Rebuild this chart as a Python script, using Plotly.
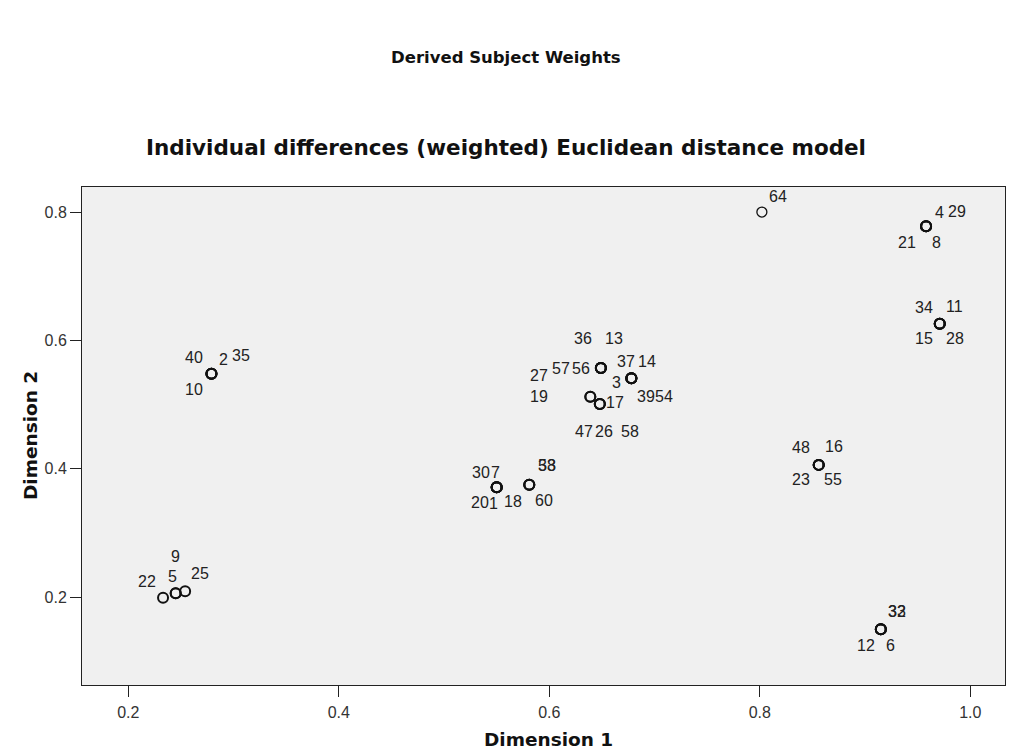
import plotly.graph_objects as go

# ---- data ----
subjects = [40, 2, 35, 10,
            64,
            4, 29, 21, 8,
            34, 11, 15, 28,
            48, 16, 23, 55,
            32, 33, 12, 6,
            22, 5, 9, 25,
            30, 7, 20, 1, 18,
            53, 38, 60,
            36, 13, 27, 57, 56,
            37, 14, 3, 39, 54,
            19, 47,
            17, 26, 58]

dim1 = [0.279, 0.279, 0.279, 0.279,
        0.802,
        0.958, 0.958, 0.958, 0.958,
        0.971, 0.971, 0.971, 0.971,
        0.856, 0.856, 0.856, 0.856,
        0.915, 0.915, 0.915, 0.915,
        0.233, 0.245, 0.245, 0.254,
        0.550, 0.550, 0.550, 0.550, 0.550,
        0.581, 0.581, 0.581,
        0.649, 0.649, 0.649, 0.649, 0.649,
        0.678, 0.678, 0.678, 0.678, 0.678,
        0.639, 0.639,
        0.648, 0.648, 0.648]

dim2 = [0.548, 0.548, 0.548, 0.548,
        0.800,
        0.778, 0.778, 0.778, 0.778,
        0.626, 0.626, 0.626, 0.626,
        0.406, 0.406, 0.406, 0.406,
        0.150, 0.150, 0.150, 0.150,
        0.199, 0.206, 0.206, 0.209,
        0.371, 0.371, 0.371, 0.371, 0.371,
        0.375, 0.375, 0.375,
        0.557, 0.557, 0.557, 0.557, 0.557,
        0.541, 0.541, 0.541, 0.541, 0.541,
        0.512, 0.512,
        0.501, 0.501, 0.501]

x_ticks = [0.2, 0.4, 0.6, 0.8, 1.0]
x_tick_labels = ["0.2", "0.4", "0.6", "0.8", "1.0"]
y_ticks = [0.2, 0.4, 0.6, 0.8]
y_tick_labels = ["0.2", "0.4", "0.6", "0.8"]

# ---- label placement offsets in pixels (dx right, dy down) ----
label_offsets = [(-17, -16), (12, -14), (30, -18), (-17, 16),
                 (16, -16),
                 (13, -14), (31, -15), (-19, 16), (10, 16),
                 (-16, -16), (15, -17), (-16, 15), (15, 15),
                 (-18, -17), (15, -18), (-18, 15), (14, 15),
                 (16, -18), (16, -18), (-15, 16), (10, 16),
                 (-16, -16), (-3, -17), (0, -37), (15, -18),
                 (-16, -15), (-1, -15), (-17, 15), (-3, 16), (16, 14),
                 (18, -19), (18, -19), (15, 16),
                 (-18, -29), (13, -29), (-62, 8), (-40, 1), (-20, 1),
                 (-5, -17), (16, -17), (-15, 4), (15, 18), (33, 18),
                 (-51, 0), (-6, 35),
                 (15, -1), (4, 28), (30, 28)]

# style: subjects drawn with a thinner circle
thin_subjects = [64]

FONT = "Liberation Sans, Arial, sans-serif"
TFONT = "DejaVu Sans, Verdana, sans-serif"

line_widths = [1.3 if s in thin_subjects else 2.0 for s in subjects]

fig = go.Figure()
fig.add_trace(go.Scatter(
    x=dim1, y=dim2, mode="markers",
    marker=dict(symbol="circle-open", size=10, color="#111111",
                line=dict(width=line_widths, color="#111111")),
    text=[str(s) for s in subjects],
    hoverinfo="text", showlegend=False,
))

annotations = []
for s, xv, yv, (dx, dy) in zip(subjects, dim1, dim2, label_offsets):
    annotations.append(dict(
        x=xv, y=yv, xref="x", yref="y", text=str(s), showarrow=False,
        xshift=dx, yshift=-dy,
        font=dict(family=FONT, size=16, color="#222222"),
    ))

# titles
annotations.append(dict(text="<b>Derived Subject Weights</b>", x=0.459, y=1.261,
                        xref="paper", yref="paper", showarrow=False,
                        xanchor="center", yanchor="middle",
                        font=dict(family=TFONT, size=16.5, color="#111111")))
annotations.append(dict(text="<b>Individual differences (weighted) Euclidean distance model</b>",
                        x=0.459, y=1.080, xref="paper", yref="paper", showarrow=False,
                        xanchor="center", yanchor="middle",
                        font=dict(family=TFONT, size=21.5, color="#111111")))
annotations.append(dict(text="<b>Dimension 1</b>", x=0.505, y=0, yshift=-54,
                        xref="paper", yref="paper", showarrow=False,
                        xanchor="center", yanchor="middle",
                        font=dict(family=TFONT, size=18.5, color="#111111")))
annotations.append(dict(text="<b>Dimension 2</b>", x=0, xshift=-52, y=0.5,
                        xref="paper", yref="paper", showarrow=False, textangle=-90,
                        xanchor="center", yanchor="middle",
                        font=dict(family=TFONT, size=18.5, color="#111111")))

fig.update_layout(
    width=1010, height=752,
    margin=dict(l=82, r=5, t=187, b=67),
    paper_bgcolor="white", plot_bgcolor="#f0f0f0",
    annotations=annotations,
    font=dict(family=FONT),
)
fig.update_xaxes(range=[0.156, 1.033], tickvals=x_ticks, ticktext=x_tick_labels,
                 ticks="outside", ticklen=11, tickwidth=1, tickcolor="#222222",
                 showgrid=False, zeroline=False, showline=True, linecolor="#222222",
                 linewidth=1, mirror=True, ticklabelstandoff=2,
                 tickfont=dict(family=FONT, size=16, color="#333333"))
fig.update_yaxes(range=[0.063, 0.839], tickvals=y_ticks, ticktext=y_tick_labels,
                 ticks="outside", ticklen=11, tickwidth=1, tickcolor="#222222",
                 showgrid=False, zeroline=False, showline=True, linecolor="#222222",
                 linewidth=1, mirror=True,
                 tickfont=dict(family=FONT, size=16, color="#333333"))

fig.write_html("out.html")
